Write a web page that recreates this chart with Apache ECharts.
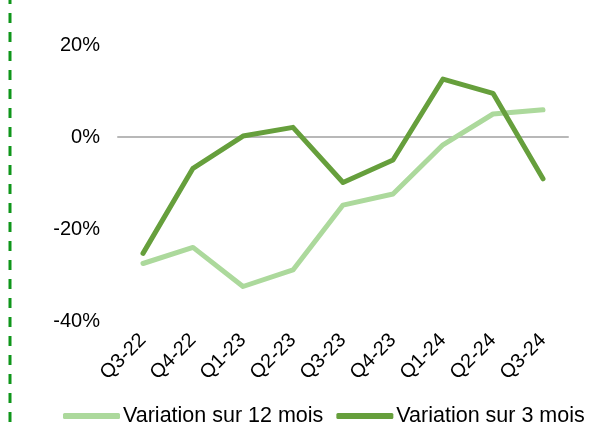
<!DOCTYPE html>
<html>
<head>
<meta charset="utf-8">
<script src="https://cdn.jsdelivr.net/npm/echarts@6/dist/echarts.min.js"></script>
<style>
  html, body { margin: 0; padding: 0; background: #fff; }
  #chart { width: 602px; height: 428px; }
</style>
</head>
<body>
<div id="chart"></div>
<script>
// trimestres
var categories = ['Q3-22', 'Q4-22', 'Q1-23', 'Q2-23', 'Q3-23', 'Q4-23', 'Q1-24', 'Q2-24', 'Q3-24'];
// variation sur 12 mois (%)
var var12 = [-27.5, -24.0, -32.5, -28.9, -14.8, -12.4, -1.7, 5.0, 5.9];
// variation sur 3 mois (%)
var var3 = [-25.3, -6.8, 0.2, 2.1, -9.9, -5.0, 12.6, 9.5, -9.1];
var yTicks = { min: -40, max: 20, interval: 20 };

var font = "'Liberation Sans', Arial, sans-serif";
var myChart = echarts.init(document.getElementById('chart'));

var option = {
    animation: false,
    textStyle: { fontFamily: font },
    grid: { left: 118, right: 34, top: 45, bottom: 107 },
    legend: {
        left: 58,
        top: 400,
        icon: 'roundRect',
        itemWidth: 57,
        itemHeight: 6,
        itemGap: 13,
        textStyle: { fontFamily: font, fontSize: 21.5, color: '#000', padding: [0, 0, 0, -2] },
        data: ['Variation sur 12 mois', 'Variation sur 3 mois']
    },
    xAxis: [{
        type: 'category',
        data: categories,
        axisLine: { show: false, onZero: false },
        axisTick: { show: false },
        axisLabel: {
            rotate: 45,
            margin: 16,
            fontFamily: font,
            fontSize: 20,
            color: '#000'
        }
    }, {
        // ligne du zéro
        type: 'category',
        data: categories,
        position: 'bottom',
        axisLine: { show: true, onZero: true, lineStyle: { color: '#b8b8b8', width: 2 } },
        axisTick: { show: false },
        axisLabel: { show: false }
    }],
    yAxis: {
        type: 'value',
        min: yTicks.min,
        max: yTicks.max,
        interval: yTicks.interval,
        axisLine: { show: false },
        axisTick: { show: false },
        splitLine: { show: false },
        axisLabel: {
            formatter: '{value}%',
            margin: 18,
            fontFamily: font,
            fontSize: 20,
            color: '#000'
        }
    },
    series: [{
        name: 'Variation sur 12 mois',
        type: 'line',
        data: var12,
        symbol: 'none',
        color: '#acd99c',
        lineStyle: { width: 5, color: '#acd99c', cap: 'round', join: 'round' }
    }, {
        name: 'Variation sur 3 mois',
        type: 'line',
        data: var3,
        symbol: 'none',
        color: '#669f3c',
        lineStyle: { width: 5, color: '#669f3c', cap: 'round', join: 'round' }
    }],
    graphic: [{
        type: 'line',
        silent: true,
        shape: { x1: 10, y1: -6, x2: 10, y2: 440 },
        style: { stroke: '#0f961a', lineWidth: 3, lineDash: [10, 9] }
    }]
};
myChart.setOption(option);
</script>
</body>
</html>
